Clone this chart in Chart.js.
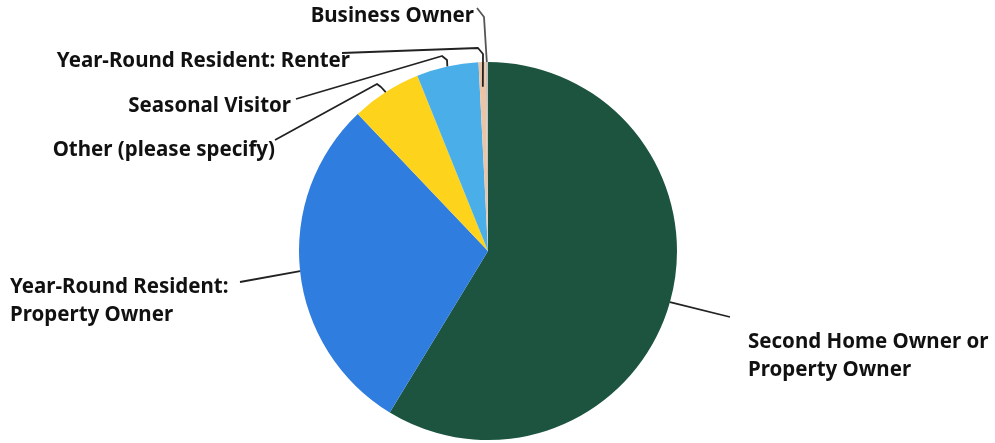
<!DOCTYPE html>
<html>
<head>
<meta charset="utf-8">
<script src="https://cdn.jsdelivr.net/npm/chart.js@4.4.1/dist/chart.umd.min.js"></script>
<style>
  html, body { margin: 0; padding: 0; background: #fff; }
  #wrap { width: 995px; height: 443px; position: relative; }
</style>
</head>
<body>
<div id="wrap"><canvas id="Respondent_Chart"></canvas></div>
<script>
// categories, clockwise from 12 o'clock
const categories = [
    'Second Home Owner or Property Owner',
    'Year-Round Resident: Property Owner',
    'Other (please specify)',
    'Seasonal Visitor',
    'Year-Round Resident: Renter',
    'Business Owner'
];
const shares = [58.7, 29.2, 6.0, 5.3, 0.6, 0.2]; // percent
const sliceColors = ['#1d5440', '#2f7ddf', '#fdd31c', '#4aaee9', '#ecc5a6', '#c9c4bd'];

// label text lines, same order as categories
const labelLines = [
    ['Second Home Owner or', 'Property Owner'],
    ['Year-Round Resident:', 'Property Owner'],
    ['Other (please specify)'],
    ['Seasonal Visitor'],
    ['Year-Round Resident: Renter'],
    ['Business Owner']
];

// where each label sits and how its leader line bends (layout only)
const labelLayout = [
    { x: 748, y: 342, align: 'left',  path: [[730, 317]], r: 1.0 },
    { x: 10,  y: 287, align: 'left',  path: [[240, 282]], r: 1.0 },
    { x: 275, y: 150, align: 'right', path: [[275, 140], [377, 84], [381, 87]], r: 1.0 },
    { x: 291, y: 106, align: 'right', path: [[296, 99], [442, 56], [447, 60]], r: 1.0 },
    { x: 350, y: 61,  align: 'right', path: [[342, 53], [478, 48], [483, 54]], r: 0.87 },
    { x: 474, y: 16,  align: 'right', path: [[477, 8], [484, 17]], r: 1.0, color: '#555' }
];

const leaderLabels = {
    id: 'leaderLabels',
    afterDatasetsDraw(chart) {
        const ctx = chart.ctx;
        const arcs = chart.getDatasetMeta(0).data;
        ctx.save();
        arcs.forEach((arc, i) => {
            const lay = labelLayout[i];
            const p = arc.getProps(['x', 'y', 'startAngle', 'endAngle', 'outerRadius'], true);
            const mid = (p.startAngle + p.endAngle) / 2;
            const ax = p.x + Math.cos(mid) * p.outerRadius * lay.r;
            const ay = p.y + Math.sin(mid) * p.outerRadius * lay.r;

            ctx.beginPath();
            ctx.strokeStyle = lay.color || '#222';
            ctx.lineWidth = 1.8;
            ctx.lineJoin = 'round';
            ctx.moveTo(lay.path[0][0], lay.path[0][1]);
            lay.path.slice(1).forEach(pt => ctx.lineTo(pt[0], pt[1]));
            ctx.lineTo(ax, ay);
            ctx.stroke();

            ctx.fillStyle = '#111';
            ctx.font = 'bold 20.5px "Noto Sans"';
            ctx.textAlign = lay.align;
            ctx.textBaseline = 'middle';
            labelLines[i].forEach((line, j) => ctx.fillText(line, lay.x, lay.y + j * 28));
        });
        ctx.restore();
    }
};

new Chart(document.getElementById('Respondent_Chart').getContext('2d'), {
    type: 'pie',
    data: {
        labels: categories,
        datasets: [{
            data: shares,
            backgroundColor: sliceColors,
            borderWidth: 0,
            hoverOffset: 0
        }]
    },
    options: {
        responsive: true,
        maintainAspectRatio: false,
        animation: false,
        layout: { padding: { top: 62, bottom: 3, left: 0, right: 19 } },
        plugins: {
            legend: { display: false },
            tooltip: { enabled: false }
        }
    },
    plugins: [leaderLabels]
});
</script>
</body>
</html>
